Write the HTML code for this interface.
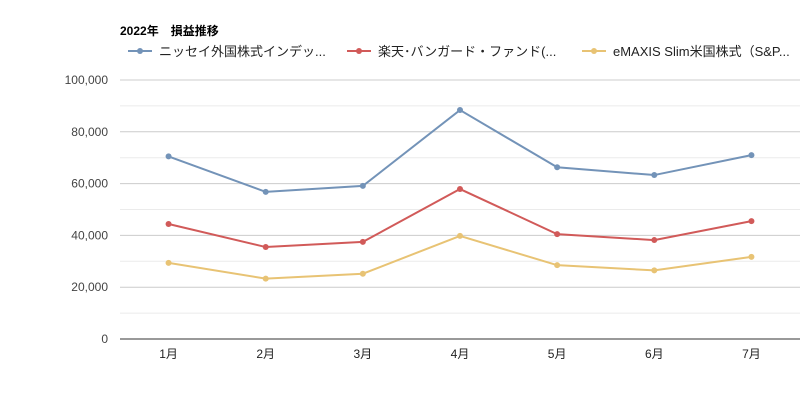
<!DOCTYPE html>
<html><head><meta charset="utf-8"><style>
body{margin:0;background:#fff;width:800px;height:400px;overflow:hidden;font-family:"Liberation Sans","Noto Sans CJK JP",sans-serif;}
svg text{font-family:"Liberation Sans","Noto Sans CJK JP",sans-serif;}
</style></head><body>
<svg id="c" width="800" height="400" xmlns="http://www.w3.org/2000/svg">
<text x="120" y="35" font-size="12" font-weight="bold" fill="#000">2022年　損益推移</text>
</svg>
<script>
const categories=["1月","2月","3月","4月","5月","6月","7月"];
const seriesNames=["ニッセイ外国株式インデッ...","楽天･バンガード・ファンド(...","eMAXIS Slim米国株式（S&P..."];
const s1=[70500,56800,59100,88400,66300,63300,71000];
const s2=[44400,35500,37500,57900,40500,38200,45500];
const s3=[29400,23300,25200,39800,28500,26500,31700];
const yTicks=[0,20000,40000,60000,80000,100000];
const colors=["#7393b8","#d15a59","#e8c374"];
const ns="http://www.w3.org/2000/svg";
const svg=document.getElementById('c');
const x0=120,x1=800,yb=339,yt=80,ymax=100000;
const bw=(x1-x0)/categories.length;
function X(i){return x0+bw*(i+0.5);}
function Y(v){return yb-(yb-yt)*v/ymax;}
function mk(t,a){const e=document.createElementNS(ns,t);for(const k in a)e.setAttribute(k,a[k]);svg.appendChild(e);return e;}
for(let v=0;v<=ymax;v+=10000){
 const g=mk('line',{x1:x0,x2:x1,y1:Y(v),y2:Y(v),stroke:v%20000?'#ebebeb':'#cccccc','stroke-width':1});
 
 
}
yTicks.forEach(v=>{
 const t=mk('text',{x:108,y:Y(v)+4,'text-anchor':'end','font-size':12,fill:'#444'});
 t.textContent=v.toLocaleString('en-US');
 
 
});
const ax=mk('line',{x1:x0,x2:x1,y1:yb,y2:yb,stroke:'#333','stroke-width':1});


categories.forEach((c,i)=>{
 const t=mk('text',{x:X(i),y:358,'text-anchor':'middle','font-size':12,fill:'#222'});
 t.textContent=c;
 
 
});
[s1,s2,s3].forEach((s,k)=>{
 const p=mk('polyline',{points:s.map((v,i)=>X(i)+','+Y(v)).join(' '),fill:'none',stroke:colors[k],'stroke-width':2});
 
 
 s.forEach((v,i)=>{
  const d=mk('circle',{cx:X(i),cy:Y(v),r:3,fill:colors[k]});
  
  
 });
});
const lx=[128,347,582];
seriesNames.forEach((n,k)=>{
 const l=mk('line',{x1:lx[k],x2:lx[k]+24,y1:51,y2:51,stroke:colors[k],'stroke-width':2});
 
 
 const c=mk('circle',{cx:lx[k]+12,cy:51,r:3,fill:colors[k]});
 
 
 const t=mk('text',{x:lx[k]+31,y:56,'font-size':13,fill:'#222'});
 t.textContent=n;
 
 
});
</script>
</body></html>
